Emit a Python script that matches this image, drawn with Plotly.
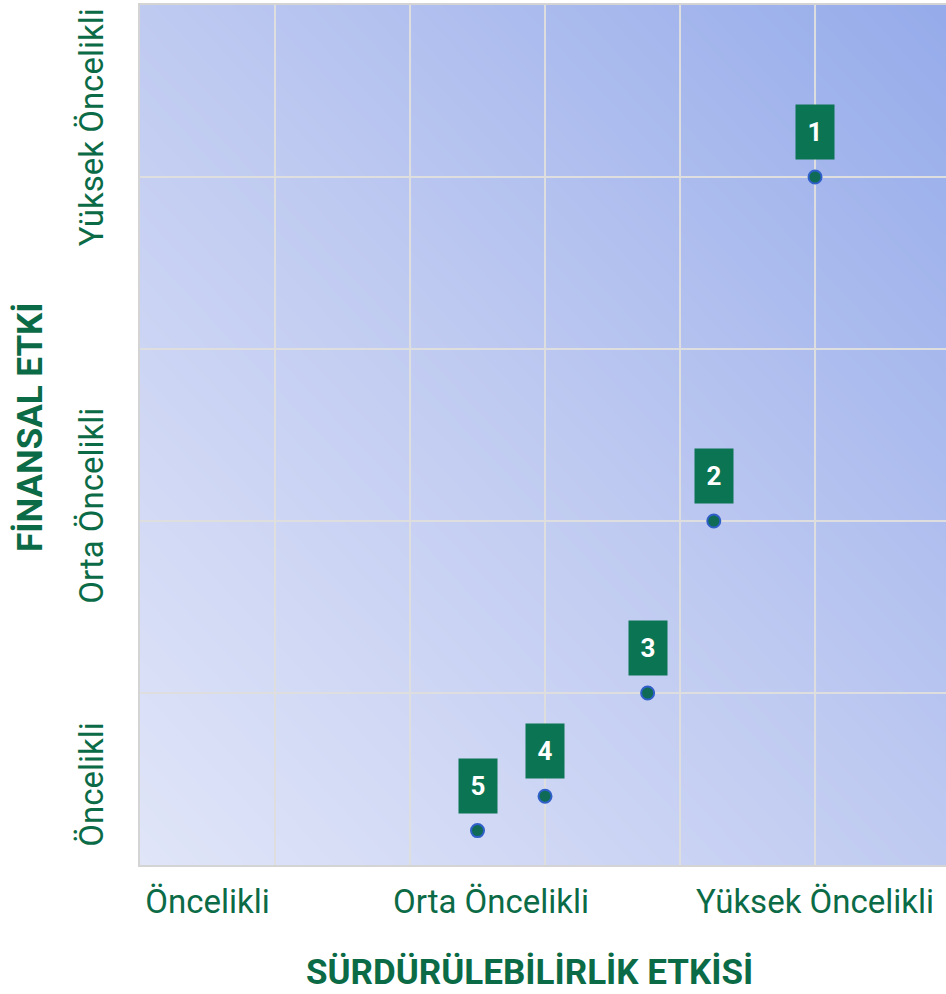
import numpy as np
import plotly.graph_objects as go

# Data
labels = ["1", "2", "3", "4", "5"]
sustainability = [5.0, 4.25, 3.76, 3.0, 2.5]
financial = [4.0, 2.0, 1.0, 0.4, 0.2]

x_tick_vals = [0.5, 2.6, 5.0]
y_tick_vals = [0.44, 2.06, 4.26]
tick_text = ["Öncelikli", "Orta Öncelikli", "Yüksek Öncelikli"]

x_grid = [1, 2, 3, 4, 5]
y_grid = [1, 2, 3, 4]
X_MAX, Y_MAX = 6, 5
X_VIEW = 5.97

GREEN = "#0b6b46"
BOX = "#0b7553"
FONT = "Roboto, 'Noto Sans', sans-serif"

# background gradient (styling only)
gx = np.linspace(0, X_MAX, 61)
gy = np.linspace(0, Y_MAX, 51)
gz = gx[None, :] / X_MAX + gy[:, None] / Y_MAX

fig = go.Figure()
fig.add_trace(go.Heatmap(
    x=gx, y=gy, z=gz, zmin=0, zmax=2, zsmooth="best",
    colorscale=[[0, "#e0e5f8"], [0.5, "#bfcaf1"], [1, "#95abea"]],
    showscale=False, hoverinfo="skip"))

# grid lines (drawn above the gradient)
glx, gly = [], []
for v in x_grid:
    glx += [v, v, None]
    gly += [0, Y_MAX, None]
for v in y_grid:
    glx += [0, X_MAX, None]
    gly += [v, v, None]
fig.add_trace(go.Scatter(x=glx, y=gly, mode="lines",
                         line=dict(color="#dedede", width=2),
                         hoverinfo="skip", showlegend=False))

fig.add_trace(go.Scatter(
    x=sustainability, y=financial, mode="markers",
    marker=dict(size=13, color="#0f6a56", line=dict(color="#2f5fc8", width=2)),
    hoverinfo="text", text=labels, showlegend=False))

for lab, xv, yv in zip(labels, sustainability, financial):
    fig.add_annotation(
        x=xv, y=yv, text="<b>" + lab + "</b>", showarrow=False,
        yshift=45, width=36, height=52, bgcolor=BOX,
        font=dict(color="white", size=26, family=FONT))

fig.add_annotation(xref="paper", yref="paper", x=(529 - 140) / 806, y=-(972 - 865) / 860,
                   text="<b>SÜRDÜRÜLEBİLİRLİK ETKİSİ</b>", showarrow=False,
                   xanchor="center", yanchor="middle",
                   font=dict(size=35, color=GREEN, family=FONT))
fig.add_annotation(xref="paper", yref="paper", x=-(140 - 30) / 806, y=(865 - 427) / 860,
                   text="<b>FİNANSAL ETKİ</b>", showarrow=False, textangle=-90,
                   xanchor="center", yanchor="middle",
                   font=dict(size=35, color=GREEN, family=FONT))

fig.update_layout(
    width=946, height=994,
    margin=dict(l=140, r=0, t=5, b=129, autoexpand=False),
    paper_bgcolor="white", plot_bgcolor="#c8d1f2",
    font=dict(family=FONT, color=GREEN),
    showlegend=False,
    xaxis=dict(
        range=[0, X_VIEW], tickmode="array", tickvals=x_tick_vals, ticktext=tick_text,
        showgrid=False, zeroline=False, ticks="", ticklen=0, automargin=False,
        ticklabelstandoff=6,
        tickfont=dict(size=33, color=GREEN, family=FONT),
        showline=True, linecolor="#d4d4d4", linewidth=2, mirror=True,
    ),
    yaxis=dict(
        range=[0, Y_MAX], tickmode="array", tickvals=y_tick_vals, ticktext=tick_text,
        showgrid=False, zeroline=False, ticks="", ticklen=0, tickangle=-90,
        automargin=False, ticklabelstandoff=22,
        tickfont=dict(size=33, color=GREEN, family=FONT),
        showline=True, linecolor="#d4d4d4", linewidth=2, mirror=True,
    ),
)

fig.write_html("out.html", config={"displayModeBar": False},
               post_script="document.body.style.margin='0';")
